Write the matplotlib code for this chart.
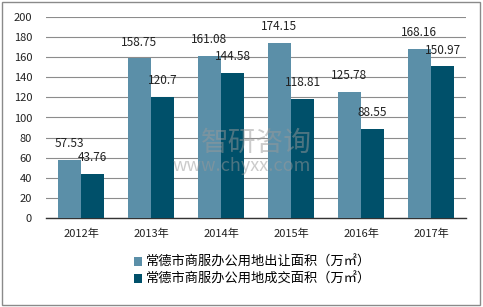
import numpy as np
import matplotlib.pyplot as plt
from matplotlib.patches import Rectangle

plt.rcParams['font.family'] = ['Noto Sans CJK SC', 'DejaVu Sans']

years = ['2012年', '2013年', '2014年', '2015年', '2016年', '2017年']
supply = [57.53, 158.75, 161.08, 174.15, 125.78, 168.16]
deal = [43.76, 120.7, 144.58, 118.81, 88.55, 150.97]
names = ['常德市商服办公用地出让面积（万㎡）', '常德市商服办公用地成交面积（万㎡）']
c_light = '#5B8FA8'
c_dark = '#00506A'

fig = plt.figure(figsize=(4.83, 3.07), dpi=100)
ax = fig.add_axes([46/483, 89/307, 420/483, 201/307])

x = np.arange(len(years))
w = 0.335
b1 = ax.bar(x - w/2, supply, w, color=c_light, label=names[0], zorder=3)
b2 = ax.bar(x + w/2, deal, w, color=c_dark, label=names[1], zorder=3)

for xi, v in zip(x - w/2, supply):
    ax.annotate(f'{v:g}', (xi, v), xytext=(0, 7), textcoords='offset points',
                ha='center', va='bottom', fontsize=8.5, color='#222222', zorder=5)
for xi, v in zip(x + w/2, deal):
    ax.annotate(f'{v:g}', (xi, v), xytext=(0, 7), textcoords='offset points',
                ha='center', va='bottom', fontsize=8.5, color='#222222', zorder=5)

ax.set_xlim(-0.5, len(years) - 0.5)
ax.set_ylim(0, 200)
ax.set_yticks(range(0, 201, 20))
ax.set_xticks(x)
ax.set_xticklabels(years)
ax.tick_params(axis='both', length=0, labelsize=8, colors='#222222')
ax.tick_params(axis='x', pad=8)
ax.tick_params(axis='y', pad=10)
ax.yaxis.grid(True, color='#8c8c8c', linewidth=0.8, zorder=0)
for s in ['top', 'right', 'left']:
    ax.spines[s].set_visible(False)
ax.spines['bottom'].set_color('#333333')
ax.spines['bottom'].set_linewidth(1.0)

# watermark
fig.text(0.53, 0.534, '智研咨询', fontsize=20, color='#999999', alpha=0.5,
         ha='center', va='center', zorder=10)
fig.text(0.50, 0.459, 'www.chyxx.com', fontsize=13, color='#999999', alpha=0.5,
         ha='center', va='center', zorder=10)

fig.legend(handles=[b1, b2], loc='upper left', bbox_to_anchor=(134/483, 1 - 256/307),
           frameon=False, fontsize=9.5, handlelength=0.6, handleheight=0.6,
           handletextpad=0.3, labelspacing=0.3, borderaxespad=0, borderpad=0)

fig.patches.append(Rectangle((0.004, 0.006), 0.99, 0.988, transform=fig.transFigure,
                             fill=False, edgecolor='#8a8a8a', linewidth=1.0))

fig.savefig('out.png', dpi=100)
